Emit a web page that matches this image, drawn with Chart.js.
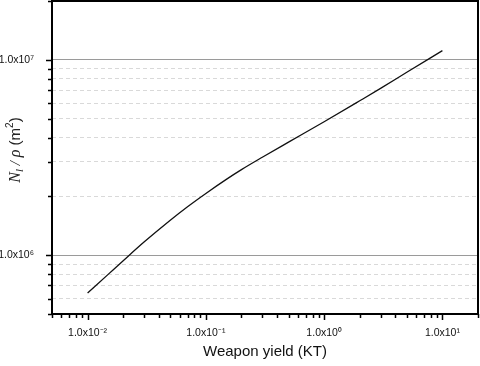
<!DOCTYPE html>
<html>
<head>
<meta charset="utf-8">
<script src="https://cdn.jsdelivr.net/npm/chart.js@4"></script>
<style>
  html, body { margin: 0; padding: 0; background: #fff; }
</style>
</head>
<body>
<canvas id="chart" width="480" height="366"></canvas>
<script>
// values (log-log)
const yieldKT = [0.01, 0.015, 0.02, 0.03, 0.05, 0.07, 0.1, 0.15, 0.2, 0.3, 0.5, 1, 2, 3, 5, 10];
const nRatio = [6.4e5, 8.0e5, 9.37e5, 1.167e6, 1.51e6, 1.77e6, 2.07e6, 2.45e6, 2.74e6, 3.17e6, 3.79e6, 4.82e6, 6.17e6, 7.14e6, 8.63e6, 1.114e7];

const xDecades = [-3, -2, -1, 0, 1];
const yDecades = [5, 6, 7];
const xRange = [0.005, 20];
const yRange = [5e5, 2e7];

function decadeTicks(decades, range) {
  const out = [];
  decades.forEach(e => {
    for (let m = 1; m <= 9; m++) {
      const v = m * Math.pow(10, e);
      if (v >= range[0] * 0.999 && v <= range[1] * 1.001) out.push(v);
    }
  });
  return out;
}
const xTicks = decadeTicks(xDecades, xRange);
const yTicks = decadeTicks(yDecades, yRange);

function isMajor(v) {
  const l = Math.log10(v);
  return Math.abs(l - Math.round(l)) < 1e-6;
}

const sup = { "0": "⁰", "1": "¹", "2": "²", "3": "³", "4": "⁴", "5": "⁵", "6": "⁶", "7": "⁷", "8": "⁸", "9": "⁹", "-": "⁻" };
function sciLabel(v) {
  const e = String(Math.round(Math.log10(v)));
  return "1.0x10" + e.split("").map(c => sup[c]).join("");
}

const frame = {
  id: "frame",
  afterDraw(chart) {
    const { ctx, chartArea: a } = chart;
    const xs = chart.scales.x, ys = chart.scales.y;
    ctx.save();
    ctx.strokeStyle = "#000";
    ctx.lineWidth = 1.5;
    ctx.beginPath();
    xTicks.forEach(v => {
      const px = Math.round(xs.getPixelForValue(v)) + 0.5;
      const len = isMajor(v) ? 6 : 4;
      ctx.moveTo(px, a.bottom);
      ctx.lineTo(px, a.bottom + len);
    });
    yTicks.forEach(v => {
      const py = Math.round(ys.getPixelForValue(v)) + 0.5;
      const len = isMajor(v) ? 6 : 4;
      ctx.moveTo(a.left, py);
      ctx.lineTo(a.left - len, py);
    });
    ctx.stroke();
    ctx.lineWidth = 2;
    ctx.strokeRect(a.left, a.top, a.right - a.left, a.bottom - a.top);

    // y axis title: N_l / rho (m^2)
    const parts = [
      { t: "N", f: "italic 16px 'Liberation Serif'", dy: 0 },
      { t: "l", f: "italic 11px 'Liberation Serif'", dy: 4 },
      { t: " / ", f: "italic 15px 'Liberation Serif'", dy: 0 },
      { t: "ρ", f: "italic 16px 'Liberation Serif'", dy: 0 },
      { t: " (m", f: "15px 'Liberation Sans'", dy: 0 },
      { t: "2", f: "10px 'Liberation Sans'", dy: -6 },
      { t: ")", f: "15px 'Liberation Sans'", dy: 0 }
    ];
    let total = 0;
    parts.forEach(p => { ctx.font = p.f; p.w = ctx.measureText(p.t).width; total += p.w; });
    ctx.translate(16, 150);
    ctx.rotate(-Math.PI / 2);
    ctx.fillStyle = "#222";
    ctx.textBaseline = "middle";
    let x = -total / 2;
    parts.forEach(p => {
      ctx.font = p.f;
      ctx.fillText(p.t, x, p.dy);
      x += p.w;
    });
    ctx.restore();
  }
};

new Chart(document.getElementById("chart"), {
  type: "line",
  data: {
    datasets: [{
      data: yieldKT.map((x, i) => ({ x, y: nRatio[i] })),
      borderColor: "#111",
      borderWidth: 1.3,
      pointRadius: 0,
      fill: false,
      cubicInterpolationMode: "monotone"
    }]
  },
  options: {
    responsive: false,
    animation: false,
    layout: { padding: { top: 1, right: 2, left: 0, bottom: 0 } },
    plugins: { legend: { display: false }, tooltip: { enabled: false } },
    scales: {
      x: {
        type: "logarithmic",
        min: xRange[0],
        max: xRange[1],
        afterBuildTicks: s => { s.ticks = xTicks.map(v => ({ value: v })); },
        afterFit: s => { s.height = 52; s.paddingLeft = 0; s.paddingRight = 0; },
        grid: { display: false, drawTicks: false },
        border: { display: false },
        ticks: {
          autoSkip: false,
          maxRotation: 0,
          padding: 13,
          color: "#111",
          font: { family: "'Liberation Sans'", size: 10.5 },
          callback: v => isMajor(v) ? sciLabel(v) : ""
        },
        title: {
          display: true,
          text: "Weapon yield (KT)",
          color: "#111",
          font: { family: "'Liberation Sans'", size: 15 },
          padding: { top: 0, bottom: 5 }
        }
      },
      y: {
        type: "logarithmic",
        min: yRange[0],
        max: yRange[1],
        afterBuildTicks: s => { s.ticks = yTicks.map(v => ({ value: v })); },
        afterFit: s => { s.width = 52; s.paddingTop = 0; s.paddingBottom = 0; },
        grid: {
          drawTicks: false,
          lineWidth: 1,
          color: c => isMajor(c.tick.value) ? "#9a9a9a" : "#d9d9d9"
        },
        border: {
          display: false,
          dash: c => isMajor(c.tick.value) ? [] : [4, 3]
        },
        ticks: {
          autoSkip: false,
          padding: 18,
          color: "#111",
          font: { family: "'Liberation Sans'", size: 10.5 },
          callback: v => isMajor(v) ? sciLabel(v) : ""
        }
      }
    }
  },
  plugins: [frame]
});
</script>
</body>
</html>
